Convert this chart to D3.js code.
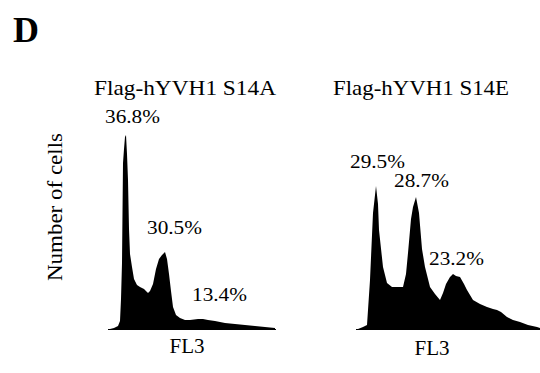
<!DOCTYPE html>
<html><head><meta charset="utf-8">
<script src="https://cdn.jsdelivr.net/npm/d3@7"></script>
<style>body{margin:0;background:#fff}svg{display:block}</style>
</head><body>
<script>
// Panel titles and labels
const panelTitles = ["Flag-hYVH1 S14A", "Flag-hYVH1 S14E"];
const xAxisLabel = "FL3";
const yAxisLabel = "Number of cells";
const panelLetter = "D";

// Histogram A (S14A): [channel, count]
const histA = [[0,0],[4,1],[8,3],[10,8],[11,30],[12,66],[13,166],[14,180],[15,192],[16,194],[17,175],[18,149],[19,100],[20,75],[22,62],[24,50],[27,44],[30,42],[34,40],[37,37],[38,36],[40,38],[43,45],[46,60],[49,70],[52,74],[55,77],[57,70],[59,55],[61,38],[63,22],[66,14],[70,11],[75,9],[80,9],[88,10],[93,10],[98,9],[105,8],[115,6],[125,5],[135,4],[145,3],[155,2],[165,1]];
// Histogram E (S14E)
const histE = [[0,0],[5,2],[9,4],[12,49],[15,116],[18,143],[20,125],[21,99],[25,62],[29,46],[34,42],[39,42],[45,42],[48,55],[50,76],[53,110],[55,122],[58,132],[61,116],[64,80],[67,62],[72,42],[77,35],[82,29],[85,36],[88,45],[92,52],[95,55],[98,53],[102,52],[106,45],[109,39],[115,29],[122,25],[129,22],[135,20],[139,19],[143,17],[149,12],[155,9],[162,7],[170,4],[179,2],[182,1]];

// Phase percentages [channel, count-level, label]
const pctA = [[3,206,"36.8%"],[45,95,"30.5%"],[90,28,"13.4%"]];
const pctE = [[0,161,"29.5%"],[44,142,"28.7%"],[79,64,"23.2%"]];

const W = 540, H = 373;
const svg = d3.select("body").append("svg").attr("width", W).attr("height", H);
const FF = "Liberation Serif";

svg.append("text").attr("x", 13).attr("y", 42).text(panelLetter)
  .style("font-family", FF).attr("font-weight", "bold").attr("font-size", 36).attr("fill", "#000");

svg.append("text").attr("transform", "translate(62,207) rotate(-90)")
  .attr("text-anchor", "middle").text(yAxisLabel)
  .style("font-family", FF).attr("font-size", 20)
  .attr("textLength", 148).attr("lengthAdjust", "spacingAndGlyphs");

const panels = [
  {data: histA, pct: pctA, title: panelTitles[0], x0: 110, x1: 275, dom: 165, titleX: 185, titleW: 182, fl3X: 187, fl3Y: 353},
  {data: histE, pct: pctE, title: panelTitles[1], x0: 358, x1: 540, dom: 182, titleX: 421, titleW: 176, fl3X: 432, fl3Y: 355}
];
const baseY = 329;
const y = d3.scaleLinear().domain([0, 200]).range([baseY, baseY - 200]);

panels.forEach(p => {
  const x = d3.scaleLinear().domain([0, p.dom]).range([p.x0, p.x1]);
  const area = d3.area().x(d => x(d[0])).y0(baseY).y1(d => y(d[1])).curve(d3.curveLinear);
  svg.append("path").datum(p.data).attr("d", area).attr("fill", "#000");
  svg.append("line").attr("x1", p.x0 - 2).attr("x2", p.x1 + 1).attr("y1", baseY + 0.5).attr("y2", baseY + 0.5)
    .attr("stroke", "#000").attr("stroke-width", 1.2);
  svg.append("text").attr("x", p.titleX).attr("y", 95).attr("text-anchor", "middle").text(p.title)
    .style("font-family", FF).attr("font-size", 22)
    .attr("textLength", p.titleW).attr("lengthAdjust", "spacingAndGlyphs");
  svg.append("text").attr("x", p.fl3X).attr("y", p.fl3Y).attr("text-anchor", "middle").text(xAxisLabel)
    .style("font-family", FF).attr("font-size", 21);
  p.pct.forEach(d => {
    svg.append("text").attr("x", x(d[0]) - 8).attr("y", y(d[1])).text(d[2])
      .style("font-family", FF).attr("font-size", 18)
      .attr("textLength", 55).attr("lengthAdjust", "spacingAndGlyphs");
  });
});
</script>
</body></html>
